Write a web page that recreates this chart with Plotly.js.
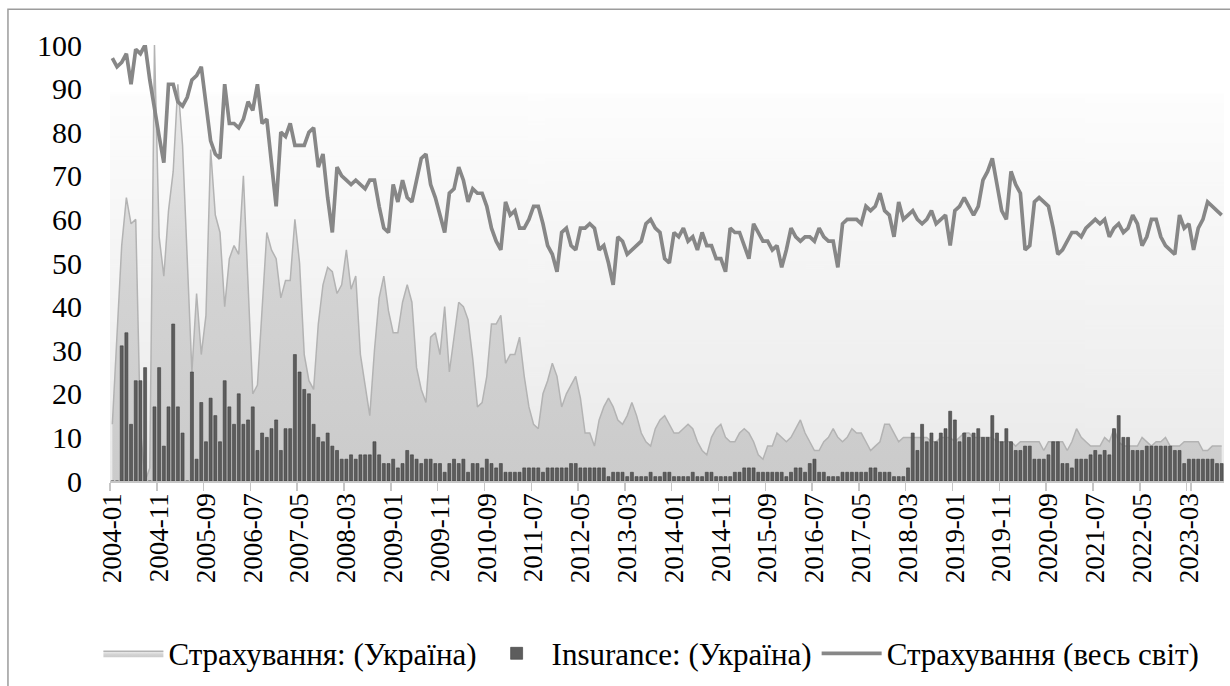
<!DOCTYPE html>
<html>
<head>
<meta charset="utf-8">
<script src="https://cdn.plot.ly/plotly-3.0.1.min.js"></script>
<style>
  html, body { margin: 0; padding: 0; background: #ffffff; overflow: hidden; }
  #chart { width: 1230px; height: 686px; }
</style>
</head>
<body>
<div id="chart"></div>
<script>
// ---- categories: monthly, 2004-01 .. 2023-10 ----
const startYear = 2004, endYear = 2023, endMonth = 10;
const months = [];
for (let y = startYear; y <= endYear; y++) {
  for (let m = 1; m <= 12; m++) {
    if (y === endYear && m > endMonth) break;
    months.push(y + '-' + (m < 10 ? '0' + m : '' + m));
  }
}

// ---- series: Страхування: (Україна) (area) ----
const ukraineInsuranceUA = [
  13,33,54,65,59,60,12,0,3,100,
  56,47,62,71,91,77,49,25,43,29,
  38,76,61,57,40,51,54,52,70,46,
  20,22,40,57,53,51,42,46,46,60,
  50,29,23,21,36,45,49,48,43,45,
  53,44,47,29,22,15,30,42,47,39,
  34,34,41,45,41,26,21,18,33,34,
  29,40,25,33,41,40,37,28,17,18,
  24,36,36,38,27,29,29,33,24,17,
  13,12,20,23,27,24,17,20,22,24,
  19,11,11,8,14,17,19,17,14,13,
  15,18,15,11,9,8,12,14,15,13,
  11,11,12,13,12,9,7,6,10,12,
  13,10,9,9,11,12,11,9,6,5,
  8,8,11,10,9,10,12,14,11,9,
  7,7,9,10,12,10,9,10,12,11,
  11,9,7,8,9,13,13,11,9,10,
  10,10,10,10,10,9,9,10,10,10,
  9,10,11,11,10,10,10,10,10,9,
  9,9,9,8,9,9,9,9,9,7,
  9,9,9,9,7,9,12,10,9,8,
  8,8,10,9,12,9,8,8,8,8,
  10,9,8,9,9,10,8,8,8,9,
  9,9,9,7,7,8,8,8
];

// ---- series: Insurance: (Україна) (bars) ----
const ukraineInsuranceEN = [
  0,0,31,34,13,23,23,26,0,17,
  26,8,17,36,17,11,0,25,5,18,
  9,19,15,9,23,17,13,20,13,14,
  17,7,11,10,12,14,7,12,12,29,
  25,21,20,13,10,9,11,8,7,5,
  5,6,5,6,6,6,9,6,4,4,
  5,3,4,7,6,5,4,5,5,4,
  4,2,4,5,4,5,2,4,4,3,
  5,4,3,4,2,2,2,2,3,3,
  3,3,2,3,3,3,3,3,4,4,
  3,3,3,3,3,3,1,2,2,2,
  1,2,1,1,1,2,1,1,2,2,
  1,1,1,1,2,1,1,2,2,1,
  1,1,1,2,2,3,3,3,2,2,
  2,2,2,2,1,2,3,3,2,4,
  5,2,2,1,1,1,2,2,2,2,
  2,2,3,3,2,2,2,1,1,1,
  3,11,7,13,9,11,9,11,12,16,
  14,9,11,10,11,12,10,10,15,11,
  9,12,9,7,7,8,8,5,5,5,
  6,9,9,4,4,3,5,5,5,6,
  7,6,7,6,12,15,10,10,7,7,
  7,8,8,8,8,8,8,7,7,4,
  5,5,5,5,5,5,4,4
];

// ---- series: Страхування (весь світ) (line) ----
const worldInsurance = [
  97,95,96,98,91,99,98,100,92,85,
  79,73,91,91,87,86,88,92,93,95,
  86,78,75,74,91,82,82,81,83,87,
  85,91,82,83,73,63,80,79,82,77,
  77,77,80,81,72,75,65,57,72,70,
  69,68,69,68,67,69,69,63,58,57,
  68,64,69,65,64,69,74,75,68,65,
  61,57,66,67,72,69,64,67,66,66,
  63,58,55,53,64,61,62,58,58,60,
  63,63,59,54,52,48,57,58,54,53,
  58,58,59,58,53,54,50,45,56,55,
  52,53,54,55,59,60,58,57,51,50,
  57,56,58,55,56,53,57,54,54,51,
  51,48,58,57,57,54,51,59,57,55,
  55,53,54,49,53,58,56,55,56,56,
  55,58,56,55,55,49,59,60,60,60,
  59,63,62,63,66,62,61,56,64,60,
  61,62,60,59,60,62,59,60,61,54,
  62,63,65,63,61,63,69,71,74,68,
  62,60,71,68,66,53,54,64,65,64,
  63,58,52,53,55,57,57,56,58,59,
  60,59,60,56,58,59,57,58,61,59,
  54,56,60,60,56,54,53,52,61,58,
  59,53,58,60,64,63,62,61
];

const seriesNames = ['Страхування: (Україна)', 'Insurance: (Україна)', 'Страхування (весь світ)'];
const tickStep = 10;
const tickLabels = months.filter((m, i) => i % tickStep === 0);
const yTicks = [0,10,20,30,40,50,60,70,80,90,100];

// ---- plot-area background gradient (image) ----
function gradientURL() {
  const c = document.createElement('canvas');
  c.width = 4; c.height = 440;
  const ctx = c.getContext('2d');
  const g = ctx.createLinearGradient(0, 0, 0, 440);
  g.addColorStop(0, '#ffffff');
  g.addColorStop(0.11, '#ffffff');
  g.addColorStop(0.115, '#fdfdfd');
  g.addColorStop(1, '#eaeaea');
  ctx.fillStyle = g;
  ctx.fillRect(0, 0, 4, 440);
  return c.toDataURL('image/png');
}

const FONT = 'Liberation Serif, Times New Roman, serif';
const xRange = [-0.5, months.length - 0.5];

const traces = [
  {
    type: 'scatter', mode: 'lines', name: seriesNames[0],
    x: months, y: ukraineInsuranceUA, xaxis: 'x', yaxis: 'y',
    fill: 'tozeroy',
    line: { color: '#b3b3b3', width: 1.5 },
    fillcolor: '#d0d0d0',
    fillgradient: { type: 'vertical', start: 0, stop: 100,
      colorscale: [[0, '#cbcbcb'], [0.45, '#d3d3d3'], [1, '#efefef']] }
  },
  {
    type: 'bar', name: seriesNames[1],
    x: months, y: ukraineInsuranceEN, xaxis: 'x2', yaxis: 'y2',
    marker: { color: '#5d5d5d', line: { color: '#3c3c3c', width: 0.6 } }
  },
  {
    type: 'scatter', mode: 'lines', name: seriesNames[2],
    x: months, y: worldInsurance, xaxis: 'x3', yaxis: 'y3',
    line: { color: '#878787', width: 3.7 }
  }
];

function hiddenX() {
  return { type: 'category', overlaying: 'x', categoryorder: 'array', categoryarray: months,
           range: xRange, visible: false, fixedrange: true };
}
function hiddenY() {
  return { overlaying: 'y', range: [0, 100], visible: false, fixedrange: true };
}

const layout = {
  width: 1230, height: 686,
  margin: { l: 110, r: 6, t: 45, b: 202 },
  paper_bgcolor: '#ffffff',
  plot_bgcolor: 'rgba(0,0,0,0)',
  font: { family: FONT, size: 30, color: '#000000' },
  bargap: 0.36,
  showlegend: true,
  legend: {
    orientation: 'h', x: 0.486, xanchor: 'center', y: -0.396, yanchor: 'middle',
    font: { family: FONT, size: 31, color: '#000000' },
    itemwidth: 60, tracegroupgap: 0, bgcolor: 'rgba(0,0,0,0)'
  },
  xaxis: {
    type: 'category',
    categoryorder: 'array', categoryarray: months, range: xRange,
    tickmode: 'array', tickvals: tickLabels, ticktext: tickLabels,
    tickangle: -90, tickson: 'boundaries',
    ticks: 'outside', ticklen: 8, tickcolor: '#c6c6c6', tickwidth: 1.5,
    showline: true, linecolor: '#c6c6c6', linewidth: 1.5,
    showgrid: false, zeroline: false,
    tickfont: { family: FONT, size: 27, color: '#000000' },
    fixedrange: true
  },
  yaxis: {
    range: [0, 100], tickmode: 'array', tickvals: yTicks,
    showgrid: false, zeroline: false, showline: false, ticks: '',
    ticklabelstandoff: 27,
    tickfont: { family: FONT, size: 30, color: '#000000' },
    fixedrange: true
  },
  xaxis2: hiddenX(), yaxis2: hiddenY(),
  xaxis3: hiddenX(), yaxis3: hiddenY(),
  images: [{
    source: gradientURL(), xref: 'paper', yref: 'paper',
    x: 0, y: 1, sizex: 1, sizey: 1, xanchor: 'left', yanchor: 'top',
    sizing: 'stretch', layer: 'below'
  }],
  shapes: [{
    type: 'rect', xref: 'paper', yref: 'paper',
    x0: -0.0916, x1: 1.06, y0: -0.6, y1: 1.082,
    line: { color: '#9c9c9c', width: 1.5 }, fillcolor: 'rgba(0,0,0,0)', layer: 'above'
  }]
};

Plotly.newPlot('chart', traces, layout, { displayModeBar: false, staticPlot: true });
</script>
</body>
</html>
